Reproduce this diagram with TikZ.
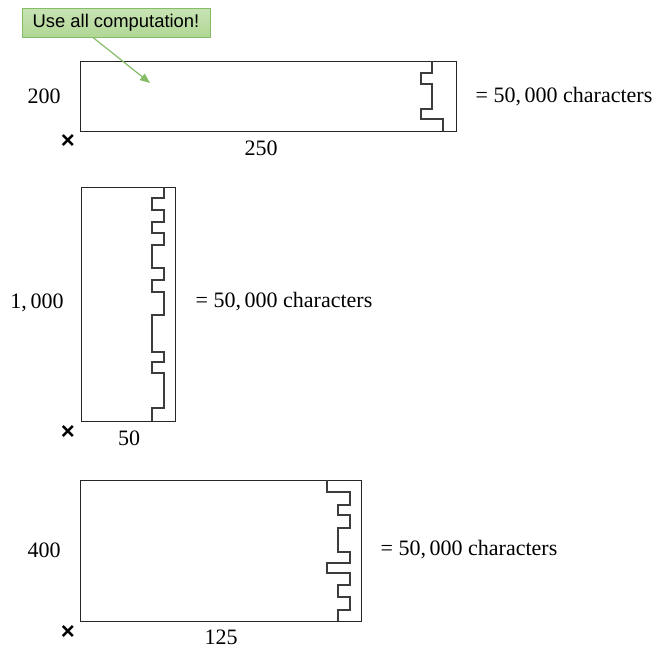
\documentclass[tikz,border=0pt]{standalone}
\usepackage{fontspec}
\setmainfont{Liberation Serif}
\setsansfont{Liberation Sans}
\usepackage{xcolor}
\usetikzlibrary{arrows.meta,positioning}
\definecolor{notefill}{RGB}{176,215,148}
\definecolor{noteline}{RGB}{132,188,104}
\definecolor{toothline}{RGB}{60,60,60}

\begin{document}
\begin{tikzpicture}[
    x=0.5pt, y=-0.5pt,
    chunk/.style={rectangle, draw=black!85, line width=0.5pt, inner sep=0pt},
    dimlabel/.style={font=\fontsize{11}{13}\selectfont, inner sep=0pt},
    timeslabel/.style={font=\sffamily\bfseries\fontsize{12}{13}\selectfont, inner sep=0pt},
    note/.style={rectangle, draw=noteline, top color=notefill!70, bottom color=notefill, line width=0.5pt, minimum width=94pt, minimum height=14.5pt, inner sep=0pt, font=\sffamily\fontsize{9.2}{11}\selectfont},
    teeth/.style={draw=toothline, line width=0.65pt},
    arrow/.style={draw=noteline, line width=0.6pt, -{Triangle[length=5pt,width=4pt]}}
]
\useasboundingbox (0,0) rectangle (669,648);

% Nodes
\node (note) [note] at (116,22.5) {Use all computation!};

\node (wide) [chunk, minimum width=188pt, minimum height=35pt] at (268,96) {};
\node (wideh) [dimlabel] at (44,96) {200};
\node (widex) [timeslabel] at (68,142) {×};
\node (widew) [dimlabel] at (261,148) {250};
\node (widec) [dimlabel] at (564,97) {= 50,\,000 characters};

\node (tall) [chunk, minimum width=47pt, minimum height=117pt] at (128,304) {};
\node (tallh) [dimlabel] at (37,303) {1,\,000};
\node (tallx) [timeslabel] at (68,432) {×};
\node (tallw) [dimlabel] at (129,438) {50};
\node (tallc) [dimlabel] at (284,302) {= 50,\,000 characters};

\node (mid) [chunk, minimum width=140.5pt, minimum height=70.5pt] at (220.5,550.5) {};
\node (midh) [dimlabel] at (44,550) {400};
\node (midx) [timeslabel] at (68,632) {×};
\node (midw) [dimlabel] at (221,637) {125};
\node (midc) [dimlabel] at (469,550) {= 50,\,000 characters};

% Teeth
\draw [teeth] (432,61) -- (432,73) -- (421,73) -- (421,84) -- (432,84) -- (432,109)
    -- (421,109) -- (421,119) -- (443,119) -- (443,131);

\draw [teeth] (164,187) -- (164,198) -- (152,198) -- (152,210) -- (164,210) -- (164,222)
    -- (152,222) -- (152,233) -- (164,233) -- (164,245) -- (152,245) -- (152,268)
    -- (164,268) -- (164,280) -- (152,280) -- (152,292) -- (164,292) -- (164,315)
    -- (152,315) -- (152,352) -- (164,352) -- (164,362) -- (152,362) -- (152,373)
    -- (164,373) -- (164,408) -- (152,408) -- (152,421);

\draw [teeth] (327,480) -- (327,492) -- (350,492) -- (350,505) -- (338,505) -- (338,515)
    -- (350,515) -- (350,528) -- (338,528) -- (338,552) -- (350,552) -- (350,563)
    -- (327,563) -- (327,573) -- (350,573) -- (350,585) -- (338,585) -- (338,597)
    -- (350,597) -- (350,610) -- (338,610) -- (338,621);

% Arrows
\coordinate (aim) at (150,83);
\draw [arrow] ([xshift=-11.5pt]note.south) -- (aim);

\end{tikzpicture}
\end{document}
